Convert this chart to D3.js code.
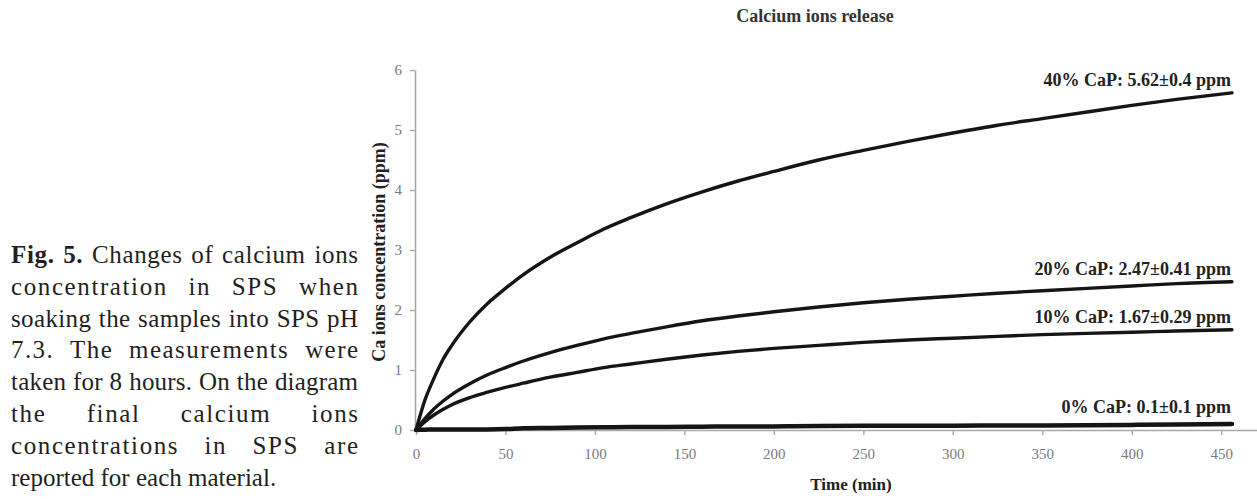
<!DOCTYPE html>
<html>
<head>
<meta charset="utf-8">
<script src="https://cdn.jsdelivr.net/npm/d3@7"></script>
<style>
  body { margin: 0; background: #fff; }
  svg { display: block; }
</style>
</head>
<body>
<div id="chart"></div>
<script>
// release time points (min) and Ca concentration (ppm)
var times = [0, 5, 10, 15, 20, 30, 40, 50, 60, 75, 90, 105, 120, 140, 160, 180, 200, 225, 250, 275, 300, 325, 350, 375, 400, 425, 456];
var cap40 = [0, 0.5, 0.86, 1.17, 1.41, 1.8, 2.11, 2.36, 2.59, 2.88, 3.12, 3.35, 3.54, 3.77, 3.97, 4.15, 4.31, 4.5, 4.66, 4.81, 4.95, 5.08, 5.19, 5.3, 5.41, 5.51, 5.62];
var cap20 = [0, 0.19, 0.35, 0.48, 0.59, 0.77, 0.92, 1.04, 1.15, 1.29, 1.41, 1.52, 1.61, 1.72, 1.82, 1.9, 1.97, 2.05, 2.12, 2.18, 2.23, 2.28, 2.32, 2.36, 2.4, 2.44, 2.47];
var cap10 = [0, 0.14, 0.25, 0.34, 0.42, 0.54, 0.63, 0.71, 0.78, 0.88, 0.96, 1.04, 1.1, 1.18, 1.25, 1.31, 1.36, 1.41, 1.46, 1.5, 1.53, 1.56, 1.59, 1.61, 1.63, 1.65, 1.67];
var cap0 = [0, 0.005, 0.01, 0.01, 0.01, 0.01, 0.01, 0.015, 0.03, 0.035, 0.04, 0.045, 0.05, 0.05, 0.055, 0.06, 0.06, 0.065, 0.07, 0.07, 0.07, 0.075, 0.075, 0.08, 0.085, 0.09, 0.1];

var seriesNames = ["40% CaP", "20% CaP", "10% CaP", "0% CaP"];
var finalMean = ["5.62", "2.47", "1.67", "0.1"];
var finalSd = ["0.4", "0.41", "0.29", "0.1"];
var xTicks = [0, 50, 100, 150, 200, 250, 300, 350, 400, 450];
var yTicks = [0, 1, 2, 3, 4, 5, 6];

var caption = [
    "Fig. 5. Changes of calcium ions",
    "concentration in SPS when",
    "soaking the samples into SPS pH",
    "7.3. The measurements were",
    "taken for 8 hours. On the diagram",
    "the final calcium ions",
    "concentrations in SPS are",
    "reported for each material."
];

var serif = "'Liberation Serif', 'Times New Roman', serif";
var width = 1257, height = 499;

var svg = d3.select("#chart").append("svg")
    .attr("width", width)
    .attr("height", height);

var x = d3.scaleLinear().domain([0, 470]).range([416, 1257]);
var y = d3.scaleLinear().domain([0, 6]).range([430, 70]);

// axes
var yAxis = svg.append("g")
    .attr("transform", "translate(415,0)")
    .call(d3.axisLeft(y).tickValues(yTicks).tickFormat(d3.format("d"))
        .tickSize(5).tickSizeOuter(0).tickPadding(8));
var xAxis = svg.append("g")
    .attr("transform", "translate(0,430)")
    .call(d3.axisBottom(x).tickValues(xTicks).tickFormat(d3.format("d"))
        .tickSize(5).tickSizeOuter(0).tickPadding(13));

[xAxis, yAxis].forEach(function (g) {
    g.select(".domain").attr("stroke", "#a8a8a8").attr("stroke-width", 1.6);
    g.selectAll(".tick line").attr("stroke", "#a8a8a8").attr("stroke-width", 1.4);
    g.selectAll(".tick text")
        .attr("fill", "#7a7a7a")
        .style("font-family", serif)
        .style("font-size", "15px");
});

// curves
var series = [cap40, cap20, cap10, cap0];
var line = d3.line()
    .x(function (d, i) { return x(times[i]); })
    .y(function (d) { return y(d); })
    .curve(d3.curveMonotoneX);

svg.selectAll(".curve")
    .data(series)
    .enter().append("path")
    .attr("class", "curve")
    .attr("fill", "none")
    .attr("stroke", "#151515")
    .attr("stroke-width", function (d, i) { return i == 3 ? 4.5 : 3.4; })
    .attr("stroke-linecap", "round")
    .attr("d", line);

// end labels
svg.selectAll(".endlabel")
    .data(series)
    .enter().append("text")
    .attr("class", "endlabel")
    .attr("x", x(times[times.length - 1]) - 1)
    .attr("y", function (d, i) { return y(d[d.length - 1]) - (i == 3 ? 11 : 7); })
    .attr("text-anchor", "end")
    .attr("fill", "#222")
    .style("font-family", serif)
    .style("font-weight", "bold")
    .style("font-size", "18px")
    .text(function (d, i) { return seriesNames[i] + ": " + finalMean[i] + "\u00b1" + finalSd[i] + " ppm"; });

// titles
svg.append("text")
    .attr("x", 815)
    .attr("y", 22)
    .attr("text-anchor", "middle")
    .attr("fill", "#333")
    .style("font-family", serif)
    .style("font-weight", "bold")
    .style("font-size", "18px")
    .text("Calcium ions release");

svg.append("text")
    .attr("x", 851)
    .attr("y", 490)
    .attr("text-anchor", "middle")
    .attr("fill", "#222")
    .style("font-family", serif)
    .style("font-weight", "bold")
    .style("font-size", "17px")
    .text("Time (min)");

svg.append("text")
    .attr("transform", "translate(385,252) rotate(-90)")
    .attr("text-anchor", "middle")
    .attr("fill", "#222")
    .style("font-family", serif)
    .style("font-weight", "bold")
    .style("font-size", "18px")
    .text("Ca ions concentration (ppm)");

// justified caption on the left
var capLeft = 11, capRight = 358, capTop = 263, capStep = 31.8;
var cap = svg.append("g").attr("class", "caption");

caption.forEach(function (txt, li) {
    var words = txt.split(" ");
    var base = capTop + li * capStep;
    var nodes = words.map(function (w, wi) {
        return cap.append("text")
            .attr("y", base)
            .attr("fill", "#231f20")
            .style("font-family", serif)
            .style("font-size", "25px")
            .style("font-weight", (li == 0 && wi < 2) ? "bold" : "normal")
            .text(w);
    });
    var widths = nodes.map(function (n) { return n.node().getComputedTextLength(); });
    var space = 6.25;
    var natural = d3.sum(widths) + space * (words.length - 1);
    var last = li == caption.length - 1;
    var extra = last ? 0 : Math.max(0, (capRight - capLeft) - natural);
    var chars = d3.sum(words, function (w) { return w.length - 1; });
    var ls = last ? 0 : Math.min(1.6, extra * 0.45 / Math.max(1, chars));
    var wordsW = widths.map(function (w, i) { return w + ls * (words[i].length - 1); });
    var gap = words.length > 1 ? (last ? space : ((capRight - capLeft) - d3.sum(wordsW)) / (words.length - 1)) : 0;
    var cx = capLeft;
    nodes.forEach(function (n, i) {
        n.attr("x", cx);
        if (ls > 0 && words[i].length > 1) {
            n.attr("textLength", wordsW[i]).attr("lengthAdjust", "spacing");
        }
        cx += wordsW[i] + gap;
    });
});
</script>
</body>
</html>
